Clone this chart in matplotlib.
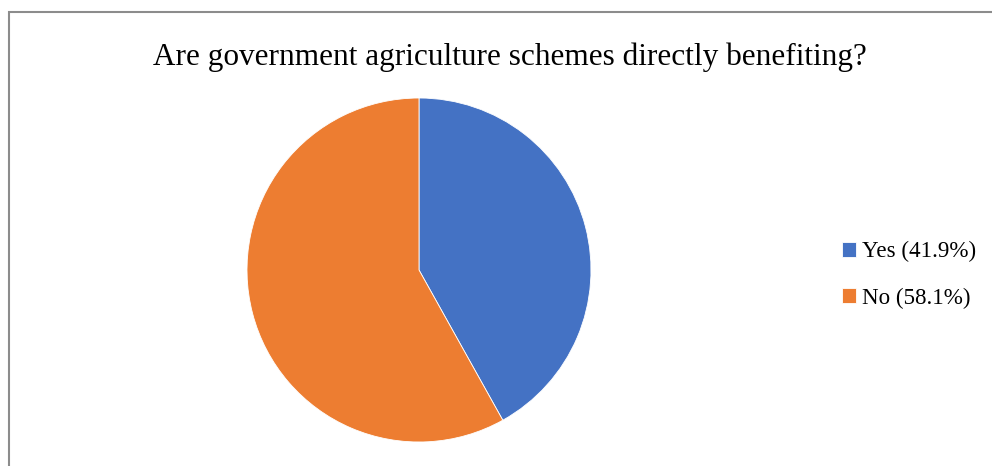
import numpy as np
import matplotlib.pyplot as plt
from matplotlib.patches import Rectangle

# Pie chart: government agriculture schemes survey

labels = ['Yes (41.9%)', 'No (58.1%)']
values = [41.9, 58.1]
colors = ['#4472C4', '#ED7D31']

plt.rcParams['font.family'] = ['Liberation Serif', 'DejaVu Serif']

W, H = 992, 466
fig = plt.figure(figsize=(W / 100, H / 100), dpi=100)

# chart frame, cropped at the right and bottom edge
fig.patches.append(Rectangle((9 / W, -0.1), 1.2, 1 - 12 / H + 0.1,
                             transform=fig.transFigure, fill=False,
                             edgecolor='#8c8c8c', linewidth=1.5))

# pie axes centered at (419, 270), radius ~172 px
r = 172
cx, cy = 419, 270
ax = fig.add_axes([(cx - r) / W, (H - cy - r) / H, 2 * r / W, 2 * r / H])
wedges, _ = ax.pie(values, colors=colors, startangle=90, counterclock=False,
                   wedgeprops=dict(edgecolor='white', linewidth=0.6))
ax.set_xlim(-1, 1)
ax.set_ylim(-1, 1)
ax.set_aspect('equal')

fig.text(510 / W, 1 - 57 / H, 'Are government agriculture schemes directly benefiting?',
         ha='center', va='center', fontsize=22.5, color='black')

fig.legend(wedges, labels, loc='center left', bbox_to_anchor=(821 / W, 1 - 275 / H),
           frameon=False, fontsize=16.6, handlelength=0.6, handleheight=0.6,
           handletextpad=0.3, labelspacing=1.1)

fig.savefig('out.png', dpi=100)
